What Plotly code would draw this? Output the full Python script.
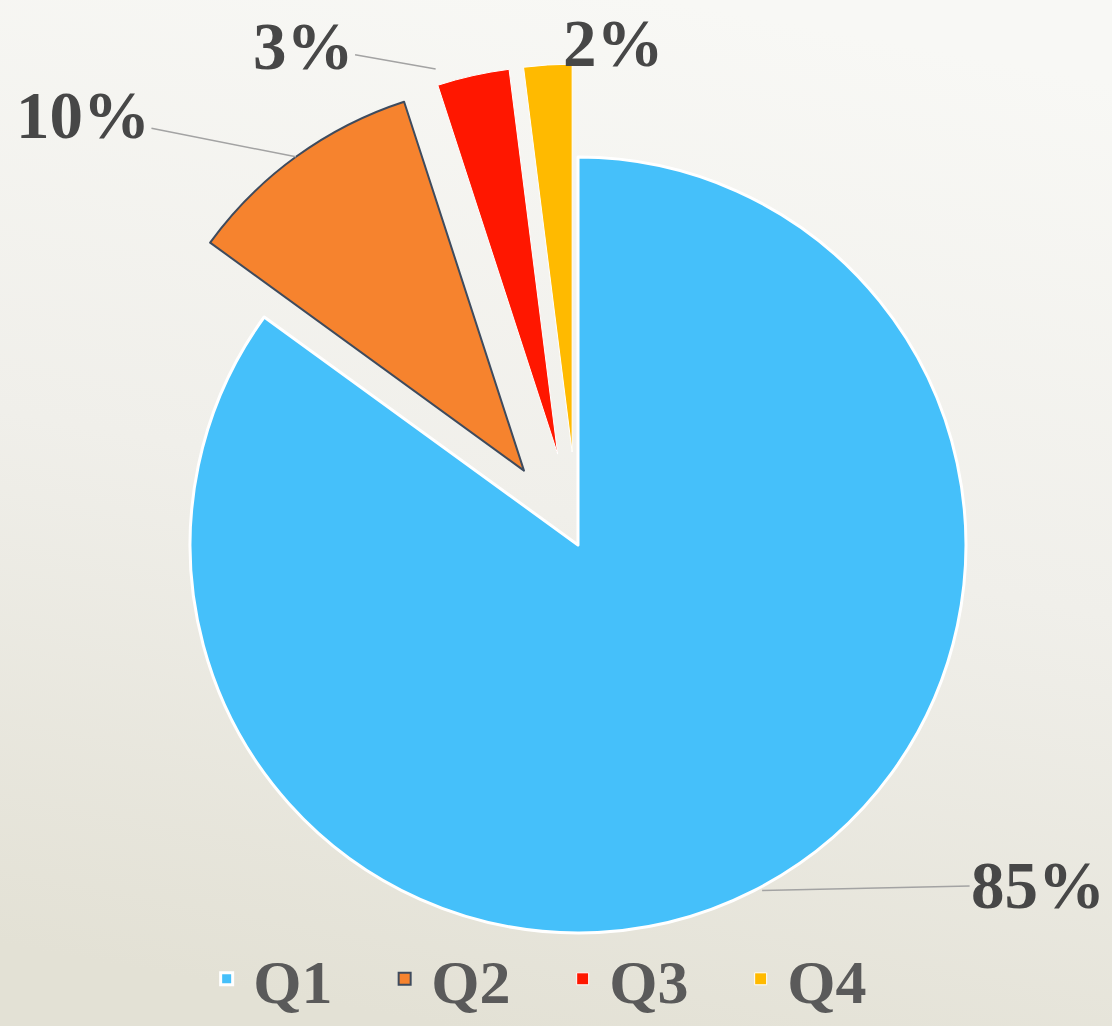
import math
import base64
import plotly.graph_objects as go

# ---- data ----
labels = ["Q1", "Q2", "Q3", "Q4"]
values = [85, 10, 3, 2]
pct_text = ["85%", "10%", "3%", "2%"]

# ---- styles ----
colors = ["#45C0FA", "#F6832E", "#FF1700", "#FFBA00"]
line_colors = ["#FFFFFF", "#3E4B5E", "#FFFFFF", "#FFFFFF"]
line_widths = [3, 2, 1, 1]
pulls = [0, 0.237, 0.24, 0.24]

W, H = 1112, 1026
CX_PX, CY_PX = 578, 545          # pie centre in pixels (from top-left)
cx_frac = CX_PX / W
cy_frac = (H - CY_PX) / H
dom_y = [0.0, 2 * cy_frac]
dom_x = [0.06, 2 * cx_frac - 0.06]

# label placement (pixel offsets from slice outer-arc midpoint) and leader standoff
label_offsets = [(284, -6), (-213, -42), (-170, -30), (66, -22)]
standoffs = [8, 0, 38, 24]

label_font = dict(family="Liberation Serif", size=67, color="#474747", weight="bold")
legend_font = dict(family="Liberation Serif", size=62, color="#5A5A5A", weight="bold")

# soft background gradient (decoration only)
svg = (
    f'<svg xmlns="http://www.w3.org/2000/svg" width="{W}" height="{H}">'
    '<defs><linearGradient id="g" x1="0.6" y1="0" x2="0.4" y2="1">'
    '<stop offset="0" stop-color="#F8F8F5"/>'
    '<stop offset="0.5" stop-color="#F0EFEA"/>'
    '<stop offset="1" stop-color="#E3E1D5"/>'
    '</linearGradient></defs>'
    f'<rect width="{W}" height="{H}" fill="url(#g)"/></svg>'
)
bg_uri = "data:image/svg+xml;base64," + base64.b64encode(svg.encode()).decode()

fig = go.Figure()
fig.add_trace(go.Pie(
    labels=labels,
    values=values,
    sort=False,
    direction="clockwise",
    rotation=0,
    pull=pulls,
    textinfo="none",
    hoverinfo="label+percent",
    marker=dict(colors=colors, line=dict(color=line_colors, width=line_widths)),
    domain=dict(x=dom_x, y=dom_y),
))

# geometry of the pie as plotly computes it, used to anchor leader lines
rx = W * (dom_x[1] - dom_x[0]) / 2
ry = H * (dom_y[1] - dom_y[0]) / 2
r = min(rx, ry) / (1 + max(pulls))
total = sum(values)
cum = 0
annotations = []
for i, v in enumerate(values):
    mid = math.radians((cum + v / 2) / total * 360)
    cum += v
    rr = (1 + pulls[i]) * r
    x = cx_frac + rr * math.sin(mid) / W
    y = cy_frac + rr * math.cos(mid) / H
    ax, ay = label_offsets[i]
    annotations.append(dict(
        x=x, y=y, xref="paper", yref="paper",
        text=pct_text[i], showarrow=True, arrowhead=0,
        arrowwidth=1.5, arrowcolor="#A3A3A3",
        ax=ax, ay=ay, standoff=standoffs[i],
        font=label_font,
    ))

fig.update_layout(
    width=W, height=H, autosize=False,
    margin=dict(l=0, r=0, t=0, b=0),
    paper_bgcolor="#E9E8E0",
    plot_bgcolor="#E9E8E0",
    showlegend=True,
    legend=dict(
        orientation="h", x=0.18, xanchor="left", y=0.0, yanchor="bottom",
        font=legend_font, bgcolor="rgba(0,0,0,0)",
        traceorder="normal",
        itemwidth=43,
        entrywidth=120, entrywidthmode="pixels",
    ),
    images=[dict(
        source=bg_uri, xref="paper", yref="paper", x=0, y=1,
        sizex=1, sizey=1, sizing="stretch", layer="below",
        xanchor="left", yanchor="top",
    )],
    annotations=annotations,
)

fig.write_html("out.html", config={"displayModeBar": False},
               post_script="document.body.style.margin='0';")
